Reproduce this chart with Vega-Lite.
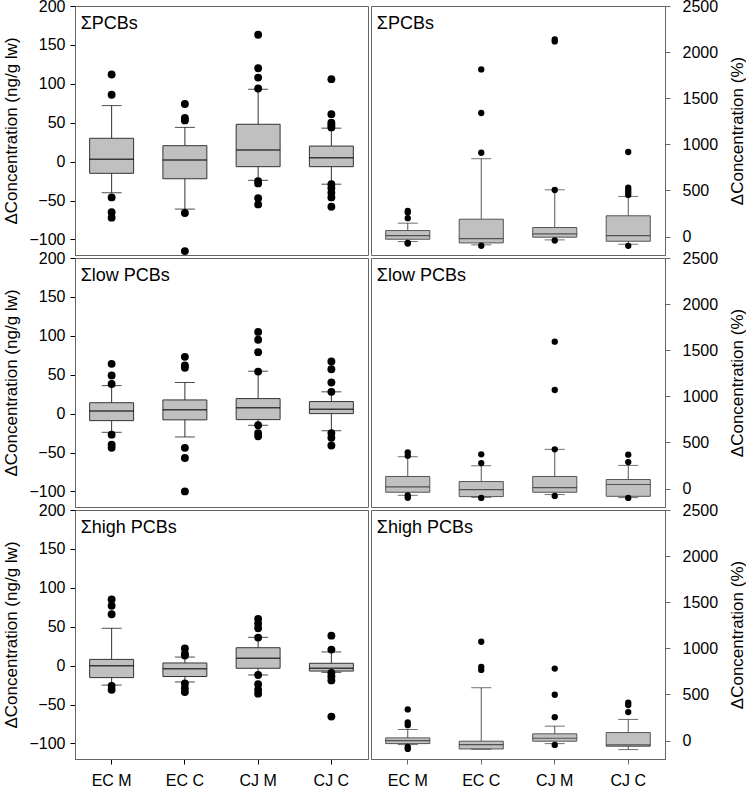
{
  "$schema": "https://vega.github.io/schema/vega-lite/v6.json",
  "padding": {"left": 2, "top": -2, "right": 0, "bottom": 0},
  "config": {
    "font": "Liberation Sans",
    "view": {"stroke": "#666", "strokeWidth": 1},
    "axis": {"grid": false, "labelFont": "Liberation Sans", "labelFontSize": 16, "labelColor": "#000", "titleFont": "Liberation Sans", "titleFontSize": 17, "titleFontWeight": "normal", "titleColor": "#000", "tickSize": 5, "tickColor": "#000", "domainColor": "#000"},
    "concat": {"spacing": 1},
    "facet": {"spacing": 3}
  },
  "data": {"values": [
    {"s":"L","m":"ΣPCBs","g":"EC M","t":"lab"},
    {"s":"L","m":"Σlow PCBs","g":"EC M","t":"lab"},
    {"s":"L","m":"Σhigh PCBs","g":"EC M","t":"lab"},
    {"s":"R","m":"ΣPCBs","g":"EC M","t":"lab"},
    {"s":"R","m":"Σlow PCBs","g":"EC M","t":"lab"},
    {"s":"R","m":"Σhigh PCBs","g":"EC M","t":"lab"},

    {"s":"L","m":"ΣPCBs","g":"EC M","t":"box","lo":-40,"q1":-15,"md":3,"q3":30,"hi":72},
    {"s":"L","m":"ΣPCBs","g":"EC C","t":"box","lo":-61,"q1":-22,"md":2,"q3":20.5,"hi":44},
    {"s":"L","m":"ΣPCBs","g":"CJ M","t":"box","lo":-24,"q1":-6.5,"md":15,"q3":48,"hi":93},
    {"s":"L","m":"ΣPCBs","g":"CJ C","t":"box","lo":-29,"q1":-6.5,"md":5,"q3":20,"hi":43},
    {"s":"L","m":"ΣPCBs","g":"EC M","t":"out","v":112},
    {"s":"L","m":"ΣPCBs","g":"EC M","t":"out","v":86},
    {"s":"L","m":"ΣPCBs","g":"EC M","t":"out","v":-46},
    {"s":"L","m":"ΣPCBs","g":"EC M","t":"out","v":-65},
    {"s":"L","m":"ΣPCBs","g":"EC M","t":"out","v":-72},
    {"s":"L","m":"ΣPCBs","g":"EC C","t":"out","v":74},
    {"s":"L","m":"ΣPCBs","g":"EC C","t":"out","v":56},
    {"s":"L","m":"ΣPCBs","g":"EC C","t":"out","v":53},
    {"s":"L","m":"ΣPCBs","g":"EC C","t":"out","v":-66},
    {"s":"L","m":"ΣPCBs","g":"EC C","t":"out","v":-115},
    {"s":"L","m":"ΣPCBs","g":"CJ M","t":"out","v":163},
    {"s":"L","m":"ΣPCBs","g":"CJ M","t":"out","v":120},
    {"s":"L","m":"ΣPCBs","g":"CJ M","t":"out","v":108},
    {"s":"L","m":"ΣPCBs","g":"CJ M","t":"out","v":94},
    {"s":"L","m":"ΣPCBs","g":"CJ M","t":"out","v":-25},
    {"s":"L","m":"ΣPCBs","g":"CJ M","t":"out","v":-28},
    {"s":"L","m":"ΣPCBs","g":"CJ M","t":"out","v":-47},
    {"s":"L","m":"ΣPCBs","g":"CJ M","t":"out","v":-55},
    {"s":"L","m":"ΣPCBs","g":"CJ C","t":"out","v":106},
    {"s":"L","m":"ΣPCBs","g":"CJ C","t":"out","v":61},
    {"s":"L","m":"ΣPCBs","g":"CJ C","t":"out","v":50},
    {"s":"L","m":"ΣPCBs","g":"CJ C","t":"out","v":47},
    {"s":"L","m":"ΣPCBs","g":"CJ C","t":"out","v":44},
    {"s":"L","m":"ΣPCBs","g":"CJ C","t":"out","v":-29},
    {"s":"L","m":"ΣPCBs","g":"CJ C","t":"out","v":-34},
    {"s":"L","m":"ΣPCBs","g":"CJ C","t":"out","v":-40},
    {"s":"L","m":"ΣPCBs","g":"CJ C","t":"out","v":-46},
    {"s":"L","m":"ΣPCBs","g":"CJ C","t":"out","v":-58},

    {"s":"R","m":"ΣPCBs","g":"EC M","t":"box","lo":-54,"q1":-29,"md":11,"q3":65,"hi":145},
    {"s":"R","m":"ΣPCBs","g":"EC C","t":"box","lo":-90,"q1":-69,"md":-22,"q3":188,"hi":844},
    {"s":"R","m":"ΣPCBs","g":"CJ M","t":"box","lo":-36,"q1":-7,"md":29,"q3":98,"hi":507},
    {"s":"R","m":"ΣPCBs","g":"CJ C","t":"box","lo":-83,"q1":-51,"md":11,"q3":225,"hi":435},
    {"s":"R","m":"ΣPCBs","g":"EC M","t":"out","v":279},
    {"s":"R","m":"ΣPCBs","g":"EC M","t":"out","v":260},
    {"s":"R","m":"ΣPCBs","g":"EC M","t":"out","v":199},
    {"s":"R","m":"ΣPCBs","g":"EC M","t":"out","v":-70},
    {"s":"R","m":"ΣPCBs","g":"EC M","t":"out","v":-76},
    {"s":"R","m":"ΣPCBs","g":"EC C","t":"out","v":1812},
    {"s":"R","m":"ΣPCBs","g":"EC C","t":"out","v":1340},
    {"s":"R","m":"ΣPCBs","g":"EC C","t":"out","v":909},
    {"s":"R","m":"ΣPCBs","g":"EC C","t":"out","v":-100},
    {"s":"R","m":"ΣPCBs","g":"CJ M","t":"out","v":2138},
    {"s":"R","m":"ΣPCBs","g":"CJ M","t":"out","v":2116},
    {"s":"R","m":"ΣPCBs","g":"CJ M","t":"out","v":505},
    {"s":"R","m":"ΣPCBs","g":"CJ M","t":"out","v":-43},
    {"s":"R","m":"ΣPCBs","g":"CJ C","t":"out","v":917},
    {"s":"R","m":"ΣPCBs","g":"CJ C","t":"out","v":529},
    {"s":"R","m":"ΣPCBs","g":"CJ C","t":"out","v":504},
    {"s":"R","m":"ΣPCBs","g":"CJ C","t":"out","v":478},
    {"s":"R","m":"ΣPCBs","g":"CJ C","t":"out","v":450},
    {"s":"R","m":"ΣPCBs","g":"CJ C","t":"out","v":-101},

    {"s":"L","m":"Σlow PCBs","g":"EC M","t":"box","lo":-24,"q1":-9,"md":3.4,"q3":14,"hi":36},
    {"s":"L","m":"Σlow PCBs","g":"EC C","t":"box","lo":-30,"q1":-8,"md":5,"q3":17.6,"hi":40},
    {"s":"L","m":"Σlow PCBs","g":"CJ M","t":"box","lo":-15,"q1":-7.7,"md":7.7,"q3":19.3,"hi":54.5},
    {"s":"L","m":"Σlow PCBs","g":"CJ C","t":"box","lo":-22,"q1":0,"md":5.6,"q3":15.5,"hi":28},
    {"s":"L","m":"Σlow PCBs","g":"EC M","t":"out","v":64},
    {"s":"L","m":"Σlow PCBs","g":"EC M","t":"out","v":49},
    {"s":"L","m":"Σlow PCBs","g":"EC M","t":"out","v":38},
    {"s":"L","m":"Σlow PCBs","g":"EC M","t":"out","v":-27},
    {"s":"L","m":"Σlow PCBs","g":"EC M","t":"out","v":-40},
    {"s":"L","m":"Σlow PCBs","g":"EC M","t":"out","v":-44},
    {"s":"L","m":"Σlow PCBs","g":"EC C","t":"out","v":73},
    {"s":"L","m":"Σlow PCBs","g":"EC C","t":"out","v":62},
    {"s":"L","m":"Σlow PCBs","g":"EC C","t":"out","v":59},
    {"s":"L","m":"Σlow PCBs","g":"EC C","t":"out","v":-44},
    {"s":"L","m":"Σlow PCBs","g":"EC C","t":"out","v":-57},
    {"s":"L","m":"Σlow PCBs","g":"EC C","t":"out","v":-100},
    {"s":"L","m":"Σlow PCBs","g":"CJ M","t":"out","v":105},
    {"s":"L","m":"Σlow PCBs","g":"CJ M","t":"out","v":95},
    {"s":"L","m":"Σlow PCBs","g":"CJ M","t":"out","v":79},
    {"s":"L","m":"Σlow PCBs","g":"CJ M","t":"out","v":54},
    {"s":"L","m":"Σlow PCBs","g":"CJ M","t":"out","v":-15},
    {"s":"L","m":"Σlow PCBs","g":"CJ M","t":"out","v":-25},
    {"s":"L","m":"Σlow PCBs","g":"CJ M","t":"out","v":-29},
    {"s":"L","m":"Σlow PCBs","g":"CJ C","t":"out","v":67},
    {"s":"L","m":"Σlow PCBs","g":"CJ C","t":"out","v":57},
    {"s":"L","m":"Σlow PCBs","g":"CJ C","t":"out","v":40},
    {"s":"L","m":"Σlow PCBs","g":"CJ C","t":"out","v":28},
    {"s":"L","m":"Σlow PCBs","g":"CJ C","t":"out","v":-25},
    {"s":"L","m":"Σlow PCBs","g":"CJ C","t":"out","v":-31},
    {"s":"L","m":"Σlow PCBs","g":"CJ C","t":"out","v":-41},

    {"s":"R","m":"Σlow PCBs","g":"EC M","t":"box","lo":-73,"q1":-40,"md":18,"q3":131,"hi":345},
    {"s":"R","m":"Σlow PCBs","g":"EC C","t":"box","lo":-95,"q1":-87,"md":-11,"q3":76,"hi":247},
    {"s":"R","m":"Σlow PCBs","g":"CJ M","t":"box","lo":-65,"q1":-40,"md":11,"q3":131,"hi":425},
    {"s":"R","m":"Σlow PCBs","g":"CJ C","t":"box","lo":-98,"q1":-84,"md":44,"q3":98,"hi":251},
    {"s":"R","m":"Σlow PCBs","g":"EC M","t":"out","v":393},
    {"s":"R","m":"Σlow PCBs","g":"EC M","t":"out","v":356},
    {"s":"R","m":"Σlow PCBs","g":"EC M","t":"out","v":-73},
    {"s":"R","m":"Σlow PCBs","g":"EC M","t":"out","v":-100},
    {"s":"R","m":"Σlow PCBs","g":"EC C","t":"out","v":371},
    {"s":"R","m":"Σlow PCBs","g":"EC C","t":"out","v":276},
    {"s":"R","m":"Σlow PCBs","g":"EC C","t":"out","v":-102},
    {"s":"R","m":"Σlow PCBs","g":"CJ M","t":"out","v":1593},
    {"s":"R","m":"Σlow PCBs","g":"CJ M","t":"out","v":1069},
    {"s":"R","m":"Σlow PCBs","g":"CJ M","t":"out","v":425},
    {"s":"R","m":"Σlow PCBs","g":"CJ M","t":"out","v":-80},
    {"s":"R","m":"Σlow PCBs","g":"CJ C","t":"out","v":367},
    {"s":"R","m":"Σlow PCBs","g":"CJ C","t":"out","v":287},
    {"s":"R","m":"Σlow PCBs","g":"CJ C","t":"out","v":-102},

    {"s":"L","m":"Σhigh PCBs","g":"EC M","t":"box","lo":-25,"q1":-15.4,"md":0,"q3":8,"hi":48},
    {"s":"L","m":"Σhigh PCBs","g":"EC C","t":"box","lo":-21,"q1":-14,"md":-4,"q3":3.4,"hi":11},
    {"s":"L","m":"Σhigh PCBs","g":"CJ M","t":"box","lo":-12,"q1":-3.4,"md":9.4,"q3":23,"hi":36.4},
    {"s":"L","m":"Σhigh PCBs","g":"CJ C","t":"box","lo":-8.6,"q1":-7,"md":-3.4,"q3":3,"hi":17.6},
    {"s":"L","m":"Σhigh PCBs","g":"EC M","t":"out","v":85},
    {"s":"L","m":"Σhigh PCBs","g":"EC M","t":"out","v":77},
    {"s":"L","m":"Σhigh PCBs","g":"EC M","t":"out","v":66},
    {"s":"L","m":"Σhigh PCBs","g":"EC M","t":"out","v":-26},
    {"s":"L","m":"Σhigh PCBs","g":"EC M","t":"out","v":-31},
    {"s":"L","m":"Σhigh PCBs","g":"EC C","t":"out","v":22},
    {"s":"L","m":"Σhigh PCBs","g":"EC C","t":"out","v":15},
    {"s":"L","m":"Σhigh PCBs","g":"EC C","t":"out","v":13},
    {"s":"L","m":"Σhigh PCBs","g":"EC C","t":"out","v":-23},
    {"s":"L","m":"Σhigh PCBs","g":"EC C","t":"out","v":-29},
    {"s":"L","m":"Σhigh PCBs","g":"EC C","t":"out","v":-34},
    {"s":"L","m":"Σhigh PCBs","g":"CJ M","t":"out","v":60},
    {"s":"L","m":"Σhigh PCBs","g":"CJ M","t":"out","v":54},
    {"s":"L","m":"Σhigh PCBs","g":"CJ M","t":"out","v":48},
    {"s":"L","m":"Σhigh PCBs","g":"CJ M","t":"out","v":36},
    {"s":"L","m":"Σhigh PCBs","g":"CJ M","t":"out","v":-12},
    {"s":"L","m":"Σhigh PCBs","g":"CJ M","t":"out","v":-24},
    {"s":"L","m":"Σhigh PCBs","g":"CJ M","t":"out","v":-31},
    {"s":"L","m":"Σhigh PCBs","g":"CJ M","t":"out","v":-36},
    {"s":"L","m":"Σhigh PCBs","g":"CJ C","t":"out","v":38.5},
    {"s":"L","m":"Σhigh PCBs","g":"CJ C","t":"out","v":20.6},
    {"s":"L","m":"Σhigh PCBs","g":"CJ C","t":"out","v":-9.4},
    {"s":"L","m":"Σhigh PCBs","g":"CJ C","t":"out","v":-14},
    {"s":"L","m":"Σhigh PCBs","g":"CJ C","t":"out","v":-19},
    {"s":"L","m":"Σhigh PCBs","g":"CJ C","t":"out","v":-65.5},

    {"s":"R","m":"Σhigh PCBs","g":"EC M","t":"box","lo":-44,"q1":-33,"md":0,"q3":29,"hi":120},
    {"s":"R","m":"Σhigh PCBs","g":"EC C","t":"box","lo":-94,"q1":-91,"md":-44,"q3":-7,"hi":573},
    {"s":"R","m":"Σhigh PCBs","g":"CJ M","t":"box","lo":-33,"q1":-7,"md":25,"q3":73,"hi":156},
    {"s":"R","m":"Σhigh PCBs","g":"CJ C","t":"box","lo":-98,"q1":-62,"md":-47,"q3":87,"hi":229},
    {"s":"R","m":"Σhigh PCBs","g":"EC M","t":"out","v":338},
    {"s":"R","m":"Σhigh PCBs","g":"EC M","t":"out","v":196},
    {"s":"R","m":"Σhigh PCBs","g":"EC M","t":"out","v":167},
    {"s":"R","m":"Σhigh PCBs","g":"EC M","t":"out","v":-69},
    {"s":"R","m":"Σhigh PCBs","g":"EC M","t":"out","v":-91},
    {"s":"R","m":"Σhigh PCBs","g":"EC C","t":"out","v":1071},
    {"s":"R","m":"Σhigh PCBs","g":"EC C","t":"out","v":799},
    {"s":"R","m":"Σhigh PCBs","g":"EC C","t":"out","v":766},
    {"s":"R","m":"Σhigh PCBs","g":"CJ M","t":"out","v":780},
    {"s":"R","m":"Σhigh PCBs","g":"CJ M","t":"out","v":497},
    {"s":"R","m":"Σhigh PCBs","g":"CJ M","t":"out","v":254},
    {"s":"R","m":"Σhigh PCBs","g":"CJ M","t":"out","v":-47},
    {"s":"R","m":"Σhigh PCBs","g":"CJ C","t":"out","v":410},
    {"s":"R","m":"Σhigh PCBs","g":"CJ C","t":"out","v":385},
    {"s":"R","m":"Σhigh PCBs","g":"CJ C","t":"out","v":309}
  ]},
  "hconcat": [
    {
      "transform": [{"filter": "datum.s === 'L'"}],
      "bounds": "flush",
      "facet": {"row": {"field": "m", "type": "nominal", "sort": ["ΣPCBs", "Σlow PCBs", "Σhigh PCBs"], "header": {"labels": false, "title": null}}},
      "spacing": 3,
      "spec": {
        "width": 293,
        "height": 249,
        "encoding": {
          "x": {"field": "g", "type": "nominal", "sort": ["EC M", "EC C", "CJ M", "CJ C"], "scale": {"paddingInner": 0, "paddingOuter": 0}, "axis": {"title": null, "labelAngle": 0, "labelPadding": 8}}
        },
        "layer": [
          {"transform": [{"filter": "datum.t === 'box'"}], "mark": {"type": "rule", "color": "#333", "strokeWidth": 1},
           "encoding": {"y": {"field": "lo", "type": "quantitative", "scale": {"domain": [-120, 200], "nice": false, "zero": false}, "axis": {"values": [-100, -50, 0, 50, 100, 150, 200], "title": "ΔConcentration (ng/g lw)", "labelPadding": 5, "titlePadding": 8}}, "y2": {"field": "hi"}}},
          {"transform": [{"filter": "datum.t === 'box'"}], "mark": {"type": "bar", "width": {"band": 0.6}, "fill": "#c0c0c0", "stroke": "#333", "strokeWidth": 1},
           "encoding": {"y": {"field": "q1", "type": "quantitative"}, "y2": {"field": "q3"}}},
          {"transform": [{"filter": "datum.t === 'box'"}], "mark": {"type": "tick", "color": "#000", "size": 44, "thickness": 1.5},
           "encoding": {"y": {"field": "md", "type": "quantitative"}}},
          {"transform": [{"filter": "datum.t === 'box'"}], "mark": {"type": "tick", "color": "#000", "size": 20, "thickness": 1},
           "encoding": {"y": {"field": "lo", "type": "quantitative"}}},
          {"transform": [{"filter": "datum.t === 'box'"}], "mark": {"type": "tick", "color": "#000", "size": 20, "thickness": 1},
           "encoding": {"y": {"field": "hi", "type": "quantitative"}}},
          {"transform": [{"filter": "datum.t === 'out'"}], "mark": {"type": "circle", "color": "#000", "opacity": 1, "size": 62},
           "encoding": {"y": {"field": "v", "type": "quantitative"}}},
          {"transform": [{"filter": "datum.t === 'lab'"}], "mark": {"type": "text", "align": "left", "baseline": "middle", "dx": -31, "dy": 18, "fontSize": 18, "color": "#000"},
           "encoding": {"y": {"datum": 200}, "text": {"field": "m"}}}
        ]
      }
    },
    {
      "transform": [{"filter": "datum.s === 'R'"}],
      "bounds": "flush",
      "facet": {"row": {"field": "m", "type": "nominal", "sort": ["ΣPCBs", "Σlow PCBs", "Σhigh PCBs"], "header": {"labels": false, "title": null}}},
      "spacing": 3,
      "spec": {
        "width": 294,
        "height": 249,
        "encoding": {
          "x": {"field": "g", "type": "nominal", "sort": ["EC M", "EC C", "CJ M", "CJ C"], "scale": {"paddingInner": 0, "paddingOuter": 0}, "axis": {"title": null, "labelAngle": 0, "labelPadding": 8, "domainColor": "#666", "tickColor": "#666"}}
        },
        "layer": [
          {"transform": [{"filter": "datum.t === 'box'"}], "mark": {"type": "rule", "color": "#555", "strokeWidth": 1},
           "encoding": {"y": {"field": "lo", "type": "quantitative", "scale": {"domain": [-200, 2500], "nice": false, "zero": false}, "axis": {"orient": "right", "values": [0, 500, 1000, 1500, 2000, 2500], "format": "d", "title": "ΔConcentration (%)", "titleAngle": 270, "titleBaseline": "top", "labelPadding": 12, "titlePadding": 12, "domainColor": "#666", "tickColor": "#666"}}, "y2": {"field": "hi"}}},
          {"transform": [{"filter": "datum.t === 'box'"}], "mark": {"type": "bar", "width": {"band": 0.6}, "fill": "#c0c0c0", "stroke": "#555", "strokeWidth": 1},
           "encoding": {"y": {"field": "q1", "type": "quantitative"}, "y2": {"field": "q3"}}},
          {"transform": [{"filter": "datum.t === 'box'"}], "mark": {"type": "tick", "color": "#222", "size": 44, "thickness": 1.2},
           "encoding": {"y": {"field": "md", "type": "quantitative"}}},
          {"transform": [{"filter": "datum.t === 'box'"}], "mark": {"type": "tick", "color": "#333", "size": 20, "thickness": 1},
           "encoding": {"y": {"field": "lo", "type": "quantitative"}}},
          {"transform": [{"filter": "datum.t === 'box'"}], "mark": {"type": "tick", "color": "#333", "size": 20, "thickness": 1},
           "encoding": {"y": {"field": "hi", "type": "quantitative"}}},
          {"transform": [{"filter": "datum.t === 'out'"}], "mark": {"type": "circle", "color": "#000", "opacity": 1, "size": 40},
           "encoding": {"y": {"field": "v", "type": "quantitative"}}},
          {"transform": [{"filter": "datum.t === 'lab'"}], "mark": {"type": "text", "align": "left", "baseline": "middle", "dx": -31, "dy": 18, "fontSize": 18, "color": "#000"},
           "encoding": {"y": {"datum": 2500}, "text": {"field": "m"}}}
        ]
      }
    }
  ]
}
